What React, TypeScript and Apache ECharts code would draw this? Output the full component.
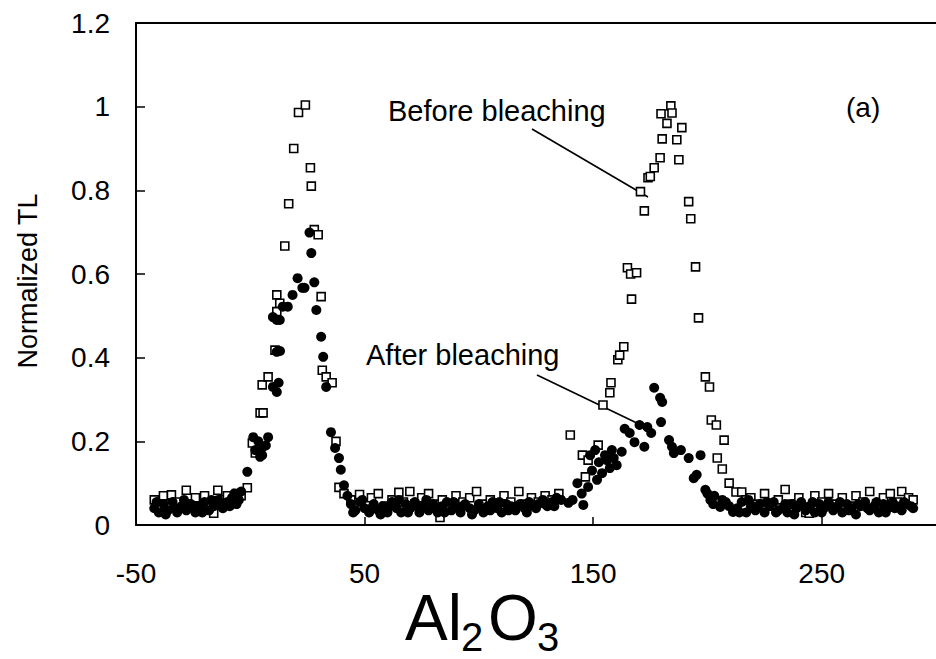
import React, { useEffect, useRef } from 'react';
import * as echarts from 'echarts';

const FONT = '"Liberation Sans", Arial, Helvetica, sans-serif';

// x tick labels shown: -50, 50, 150, 250 ; y ticks 0..1.2 step 0.2
const xMin = -50;
const xMax = 300;
const xStep = 100;
const yMin = 0;
const yMax = 1.2;
const yStep = 0.2;

// ---------- "Before bleaching" (open squares) ----------
const beforeBase1: number[][] = [
  [-42, 0.06], [-40, 0.045], [-38, 0.07], [-36, 0.05], [-34.5, 0.072], [-32, 0.055], [-30, 0.04],
  [-28, 0.083], [-26, 0.05], [-24, 0.065], [-22, 0.045], [-20, 0.07], [-18, 0.05], [-16, 0.028],
  [-14.2, 0.083], [-12, 0.06], [-10, 0.07], [-8, 0.055], [-6, 0.075], [-4, 0.07], [-1.3, 0.089],
];
const beforePeak1: number[][] = [
  [0.9, 0.196], [2.2, 0.172], [4.3, 0.268], [5.6, 0.268], [5.2, 0.335], [7.8, 0.354], [10.8, 0.418],
  [11.6, 0.51], [12.9, 0.53], [11.6, 0.55], [15.1, 0.667], [16.8, 0.768], [19, 0.9], [21.1, 0.986],
  [24.1, 1.004], [26.3, 0.854], [26.7, 0.81], [28, 0.706], [29.7, 0.694], [31, 0.546], [31.5, 0.37],
  [33.2, 0.354], [35.8, 0.34], [37.5, 0.2], [38.8, 0.09], [41, 0.075],
];
const beforeBase2: number[][] = [
  [44, 0.06], [47.8, 0.073], [51, 0.05], [53, 0.065], [56, 0.075], [59, 0.045], [62, 0.06], [65, 0.078],
  [67, 0.055], [69.8, 0.08], [72, 0.05], [75, 0.065], [78, 0.075], [81, 0.05], [83, 0.018], [84, 0.06],
  [87, 0.045], [90, 0.07], [93, 0.055], [96, 0.065], [99, 0.08], [102, 0.05], [105, 0.06], [108, 0.045],
  [111, 0.07], [114, 0.055], [117.5, 0.08], [120, 0.05], [123, 0.065], [126, 0.055], [129, 0.07],
  [132, 0.06], [135, 0.075],
];
const beforePeak2: number[][] = [
  [140, 0.215], [145.3, 0.167], [146.6, 0.115], [147.8, 0.155], [152.2, 0.191], [154.3, 0.287],
  [157.3, 0.316], [157.8, 0.34], [160.8, 0.395], [161.6, 0.406], [163.4, 0.426], [165, 0.615],
  [166.4, 0.6], [166.8, 0.54], [169, 0.603], [170.7, 0.797], [172.4, 0.751], [174, 0.83], [175, 0.833],
  [176.7, 0.854], [179.3, 0.878], [180.2, 0.923], [179.7, 0.983], [182.3, 0.96], [184, 1.002],
  [184.5, 0.985], [186.6, 0.921], [187.5, 0.873], [188.8, 0.95], [191.8, 0.773], [192.7, 0.732],
  [194.8, 0.617], [196.1, 0.495], [199.1, 0.354], [200.9, 0.33], [201.7, 0.251], [203.9, 0.239],
  [204.3, 0.16], [206.5, 0.134], [207.3, 0.203], [209.5, 0.1], [212.5, 0.079], [215, 0.079], [216.8, 0.06],
];
const beforeBase3: number[][] = [
  [219, 0.065], [222, 0.05], [225, 0.075], [228, 0.045], [231, 0.06], [234, 0.085], [237, 0.05],
  [240, 0.065], [243, 0.03], [244.5, 0.028], [247, 0.07], [250, 0.055], [253, 0.075], [256, 0.05],
  [259, 0.065], [262, 0.045], [265, 0.07], [268, 0.055], [271, 0.08], [274, 0.05], [277, 0.065],
  [280, 0.075], [283, 0.055], [285, 0.08], [288, 0.065], [290, 0.06],
];

// ---------- "After bleaching" (filled circles) ----------
const afterBase1: number[][] = [
  [-42, 0.04], [-41, 0.055], [-40, 0.03], [-38, 0.05], [-37, 0.025], [-36, 0.035], [-34, 0.055],
  [-33, 0.04], [-32, 0.03], [-30, 0.045], [-29, 0.06], [-28, 0.035], [-26, 0.05], [-25, 0.04],
  [-24, 0.03], [-22, 0.045], [-21, 0.03], [-20, 0.055], [-18, 0.035], [-17, 0.06], [-16, 0.045],
  [-14, 0.06], [-13, 0.05], [-12, 0.04], [-10, 0.055], [-9, 0.045], [-8, 0.065], [-7, 0.075],
  [-6, 0.05], [-5, 0.06],
];
const afterPeak1: number[][] = [
  [-4, 0.08], [-1.3, 0.127], [1.3, 0.21], [2.2, 0.179], [3.5, 0.2], [4.3, 0.163], [5.2, 0.167],
  [5.6, 0.187], [7.8, 0.21], [6.8, 0.19], [9.9, 0.33], [11.6, 0.318], [12.4, 0.34], [11.6, 0.414],
  [13, 0.416], [9.9, 0.497], [12.9, 0.49], [11.6, 0.49], [14.2, 0.522], [16.4, 0.522], [18.5, 0.55],
  [20.7, 0.59], [22.8, 0.567], [23.7, 0.567], [28, 0.58], [25.9, 0.699], [26.7, 0.65], [28.9, 0.514],
  [31, 0.45], [31.9, 0.402], [33.2, 0.33], [35.3, 0.222], [37.1, 0.184], [38.8, 0.16], [39.6, 0.132],
  [41, 0.095], [42.5, 0.07],
];
const afterBase2: number[][] = [
  [44, 0.05], [45, 0.03], [46, 0.035], [48, 0.055], [49, 0.06], [50, 0.04], [52, 0.03], [53, 0.04],
  [54, 0.05], [56, 0.035], [57, 0.025], [58, 0.045], [60, 0.03], [61, 0.045], [62, 0.055], [64, 0.04],
  [65, 0.06], [66, 0.03], [68, 0.05], [69, 0.03], [70, 0.04], [72, 0.055], [73, 0.045], [74, 0.03],
  [76, 0.045], [77, 0.06], [78, 0.035], [80, 0.05], [81, 0.04], [82, 0.03], [84, 0.045], [85, 0.03],
  [86, 0.055], [88, 0.035], [89, 0.055], [90, 0.045], [92, 0.03], [93, 0.045], [94, 0.05], [96, 0.04],
  [97, 0.025], [98, 0.035], [100, 0.05], [101, 0.04], [102, 0.03], [104, 0.045], [105, 0.035],
  [106, 0.055], [108, 0.04], [109, 0.055], [110, 0.03], [112, 0.05], [113, 0.035], [114, 0.045],
  [116, 0.035], [117, 0.045], [118, 0.05], [120, 0.04], [121, 0.03], [122, 0.055], [124, 0.045],
  [125, 0.04], [126, 0.05], [128, 0.06], [129, 0.05], [130, 0.045], [132, 0.055], [133, 0.045],
  [134, 0.065], [136, 0.06],
];
const afterPeak2: number[][] = [
  [139.2, 0.053], [141, 0.06], [143.1, 0.1], [145, 0.075], [145.7, 0.048], [147.8, 0.091],
  [148.7, 0.167], [149.5, 0.13], [150.9, 0.179], [151.7, 0.108], [152.5, 0.15], [153.9, 0.124],
  [155.2, 0.167], [156, 0.155], [157.3, 0.136], [158.2, 0.179], [159, 0.16], [160.3, 0.143],
  [162.5, 0.175], [163.8, 0.23], [166, 0.22], [168.1, 0.198], [170.3, 0.239], [172.4, 0.187],
  [173.7, 0.234], [175.4, 0.22], [176.7, 0.328], [179.3, 0.304], [180.2, 0.294], [179.7, 0.246],
  [183.2, 0.203], [184.5, 0.187], [185.3, 0.172], [188.4, 0.179], [191.8, 0.16], [197, 0.167],
  [195.3, 0.12], [194, 0.112], [199.1, 0.084], [200, 0.075], [201.3, 0.06], [202.5, 0.05], [203, 0.07],
  [205.6, 0.043], [206.5, 0.06], [208, 0.055], [209.5, 0.045], [211.2, 0.031],
];
const afterBase3: number[][] = [
  [213, 0.04], [214, 0.03], [215, 0.055], [217, 0.03], [218, 0.06], [219, 0.045], [221, 0.035],
  [222, 0.045], [223, 0.05], [225, 0.03], [226, 0.055], [227, 0.045], [229, 0.055], [230, 0.03],
  [231, 0.035], [233, 0.04], [234, 0.05], [235, 0.03], [237, 0.05], [238, 0.025], [239, 0.04],
  [241, 0.055], [242, 0.045], [243, 0.035], [245, 0.045], [246, 0.055], [247, 0.03], [249, 0.05],
  [250, 0.03], [251, 0.04], [253, 0.055], [254, 0.045], [255, 0.035], [257, 0.045], [258, 0.055],
  [259, 0.03], [261, 0.05], [262, 0.035], [263, 0.04], [265, 0.025], [266, 0.05], [267, 0.045],
  [269, 0.055], [270, 0.04], [271, 0.035], [273, 0.045], [274, 0.055], [275, 0.03], [277, 0.05],
  [278, 0.03], [279, 0.04], [281, 0.055], [282, 0.04], [283, 0.045], [285, 0.035], [286, 0.055],
  [287, 0.05], [289, 0.045], [290, 0.04],
];

const beforeData = [...beforeBase1, ...beforePeak1, ...beforeBase2, ...beforePeak2, ...beforeBase3];
const afterData = [...afterBase1, ...afterPeak1, ...afterBase2, ...afterPeak2, ...afterBase3];

const txt = (text: string, x: number, y: number, size: number, align = 'left', rotation = 0) => ({
  type: 'text',
  x,
  y,
  rotation,
  silent: true,
  style: {
    text,
    fill: '#000',
    fontSize: size,
    fontFamily: FONT,
    align,
    verticalAlign: 'middle',
    textAlign: align,
    textVerticalAlign: 'middle',
  },
});

export default function App() {
  const ref = useRef<HTMLDivElement>(null);
  useEffect(() => {
    if (!ref.current) return;
    const chart = echarts.init(ref.current, null, { renderer: 'svg' });
    const axisLine = { show: true, onZero: false, lineStyle: { color: '#000', width: 2 } };
    chart.setOption({
      animation: false,
      backgroundColor: '#fff',
      grid: { left: 136, top: 23, right: -11, bottom: 134 },
      xAxis: [
        {
          type: 'value',
          min: xMin,
          max: xMax,
          interval: xStep,
          position: 'bottom',
          axisLine,
          axisTick: { show: true, inside: true, length: 8, lineStyle: { color: '#000', width: 1.5 } },
          axisLabel: { fontSize: 28, color: '#000', fontFamily: FONT, margin: 34, showMaxLabel: false },
          splitLine: { show: false },
        },
        {
          type: 'value',
          min: xMin,
          max: xMax,
          position: 'top',
          axisLine,
          axisTick: { show: false },
          axisLabel: { show: false },
          splitLine: { show: false },
        },
      ],
      yAxis: {
        type: 'value',
        min: yMin,
        max: yMax,
        interval: yStep,
        position: 'left',
        axisLine,
        axisTick: { show: true, inside: true, length: 9, lineStyle: { color: '#000', width: 1.5 } },
        axisLabel: { fontSize: 28, color: '#000', fontFamily: FONT, margin: 26 },
        splitLine: { show: false },
      },
      series: [
        {
          type: 'scatter',
          name: 'Before bleaching',
          data: beforeData,
          symbol: 'rect',
          symbolSize: 8,
          itemStyle: { color: '#fff', borderColor: '#000', borderWidth: 1.6, opacity: 1 },
        },
        {
          type: 'scatter',
          name: 'After bleaching',
          data: afterData,
          symbol: 'circle',
          symbolSize: 10,
          itemStyle: { color: '#000', opacity: 1 },
        },
      ],
      graphic: [
        txt('Normalized TL', 28, 281, 27, 'center', Math.PI / 2),
        txt('Before bleaching', 388, 111, 29),
        txt('After bleaching', 366, 355, 29),
        txt('(a)', 846, 107, 28),
        {
          type: 'line',
          silent: true,
          shape: { x1: 532, y1: 129, x2: 648, y2: 197 },
          style: { stroke: '#000', lineWidth: 1.6 },
        },
        {
          type: 'line',
          silent: true,
          shape: { x1: 537, y1: 375, x2: 641, y2: 425 },
          style: { stroke: '#000', lineWidth: 1.6 },
        },
        txt('Al', 405, 618, 64),
        txt('2', 461, 637, 40),
        txt('O', 488, 618, 64),
        txt('3', 537, 637, 40),
      ],
    });
    return () => chart.dispose();
  }, []);
  return (
    <div
      ref={ref}
      style={{ position: 'absolute', left: 0, top: 0, width: 936, height: 659, background: '#fff' }}
    />
  );
}
